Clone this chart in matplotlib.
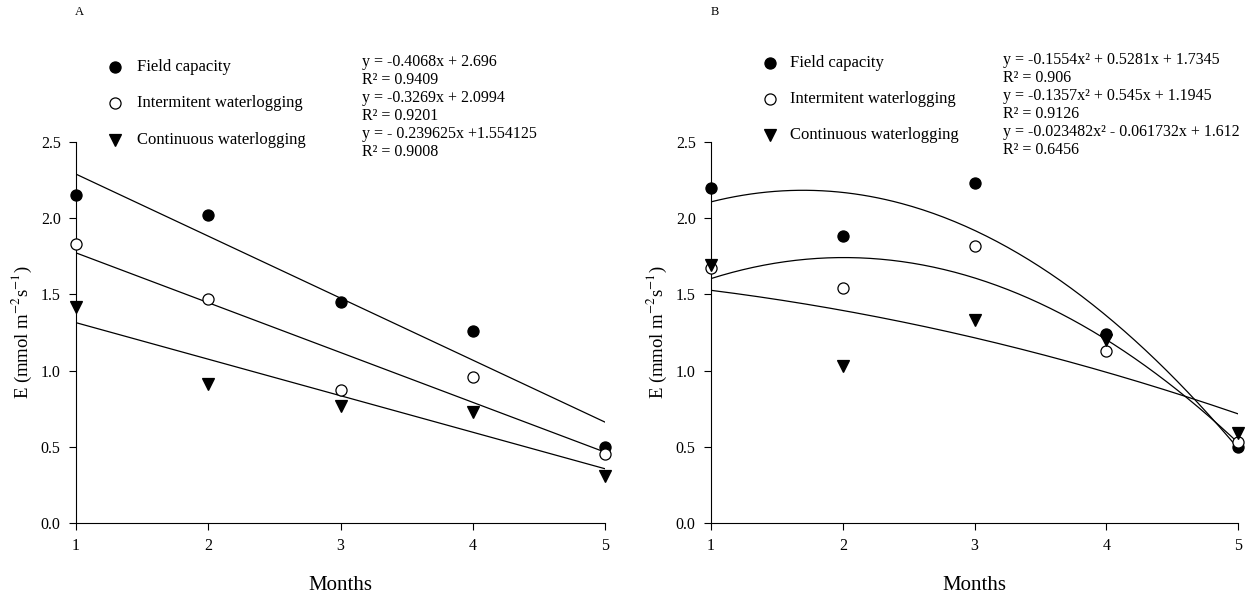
import numpy as np
import matplotlib
matplotlib.use("Agg")
import matplotlib.pyplot as plt

plt.rcParams['font.family'] = ['Liberation Serif', 'DejaVu Serif']
plt.rcParams['mathtext.fontset'] = 'stix'

months = [1, 2, 3, 4, 5]
series_names = ["Field capacity", "Intermitent waterlogging", "Continuous waterlogging"]

# Panel A values
a_field = [2.15, 2.02, 1.45, 1.26, 0.50]
a_inter = [1.83, 1.47, 0.87, 0.96, 0.45]
a_cont = [1.42, 0.91, 0.77, 0.73, 0.31]
# Panel B values
b_field = [2.20, 1.88, 2.23, 1.24, 0.50]
b_inter = [1.67, 1.54, 1.82, 1.13, 0.53]
b_cont = [1.69, 1.03, 1.33, 1.20, 0.59]

# Fitted equations as printed on the chart
a_coefs = [[-0.4068, 2.696], [-0.3269, 2.0994], [-0.239625, 1.554125]]
b_coefs = [[-0.1554, 0.5281, 1.7345], [-0.1357, 0.545, 1.1945], [-0.023482, -0.061732, 1.612]]
a_eq_text = ["y = -0.4068x + 2.696", "R² = 0.9409",
             "y = -0.3269x + 2.0994", "R² = 0.9201",
             "y = - 0.239625x +1.554125", "R² = 0.9008"]
b_eq_text = ["y = -0.1554x² + 0.5281x + 1.7345", "R² = 0.906",
             "y = -0.1357x² + 0.545x + 1.1945", "R² = 0.9126",
             "y = -0.023482x² - 0.061732x + 1.612", "R² = 0.6456"]
yticks = [0.0, 0.5, 1.0, 1.5, 2.0, 2.5]

W, H = 1253, 593
fig = plt.figure(figsize=(W / 100, H / 100), dpi=100)

def px_axes(l, r, t, b):
    return fig.add_axes([l / W, 1 - b / H, (r - l) / W, (b - t) / H])

axA = px_axes(76, 605, 142, 523)
axB = px_axes(711, 1238, 142, 523)

marker_styles = [dict(marker='o', mfc='black', mec='black'),
                 dict(marker='o', mfc='white', mec='black'),
                 dict(marker='v', mfc='black', mec='black')]

def style(ax):
    ax.set_xlim(1, 5)
    ax.set_ylim(0, 2.5)
    ax.set_xticks(months)
    ax.set_yticks(yticks)
    ax.set_yticklabels([f"{v:.1f}" for v in yticks])
    for s in ['top', 'right']:
        ax.spines[s].set_visible(False)
    ax.spines['left'].set_linewidth(0.8)
    ax.spines['bottom'].set_linewidth(0.8)
    ax.tick_params(direction='out', length=5, width=0.8, labelsize=11.5, pad=6)
    ax.set_xlabel("Months", fontsize=15, labelpad=16)
    ax.set_ylabel("E (mmol m$^{-2}$s$^{-1}$)", fontsize=13.5, labelpad=5)
    ax.patch.set_alpha(0)

xs = np.linspace(1, 5, 200)
for ax, data, coefs in [(axA, [a_field, a_inter, a_cont], a_coefs),
                        (axB, [b_field, b_inter, b_cont], b_coefs)]:
    for vals, c, ms in zip(data, coefs, marker_styles):
        ax.plot(xs, np.polyval(c, xs), color='black', lw=0.9, zorder=2)
        ax.plot(months, vals, linestyle='none', ms=8, mew=0.9, clip_on=False, zorder=3, **ms)
    style(ax)

def ftxt(x, y, s, **kw):
    fig.text(x / W, 1 - y / H, s, **kw)

ftxt(75, 12, "A", fontsize=9, va='center', ha='left')
ftxt(711, 12, "B", fontsize=9, va='center', ha='left')

# legends
for (mx, tx, rows) in [(115, 137, [67, 103, 140]), (770, 790, [63, 99, 135])]:
    for name, ms, yy in zip(series_names, marker_styles, rows):
        fig.lines.append(matplotlib.lines.Line2D([mx / W], [1 - yy / H], transform=fig.transFigure,
                                                 linestyle='none', ms=8, mew=0.9, **ms))
        ftxt(tx, yy, name, fontsize=12, va='center', ha='left')

for x0, rows, texts in [(362, [62, 80, 98, 116, 134, 152], a_eq_text),
                        (1003, [60, 78, 96, 114, 132, 150], b_eq_text)]:
    for yy, t in zip(rows, texts):
        ftxt(x0, yy, t, fontsize=11.5, va='center', ha='left')

fig.savefig("out.png", dpi=100, facecolor='white')
